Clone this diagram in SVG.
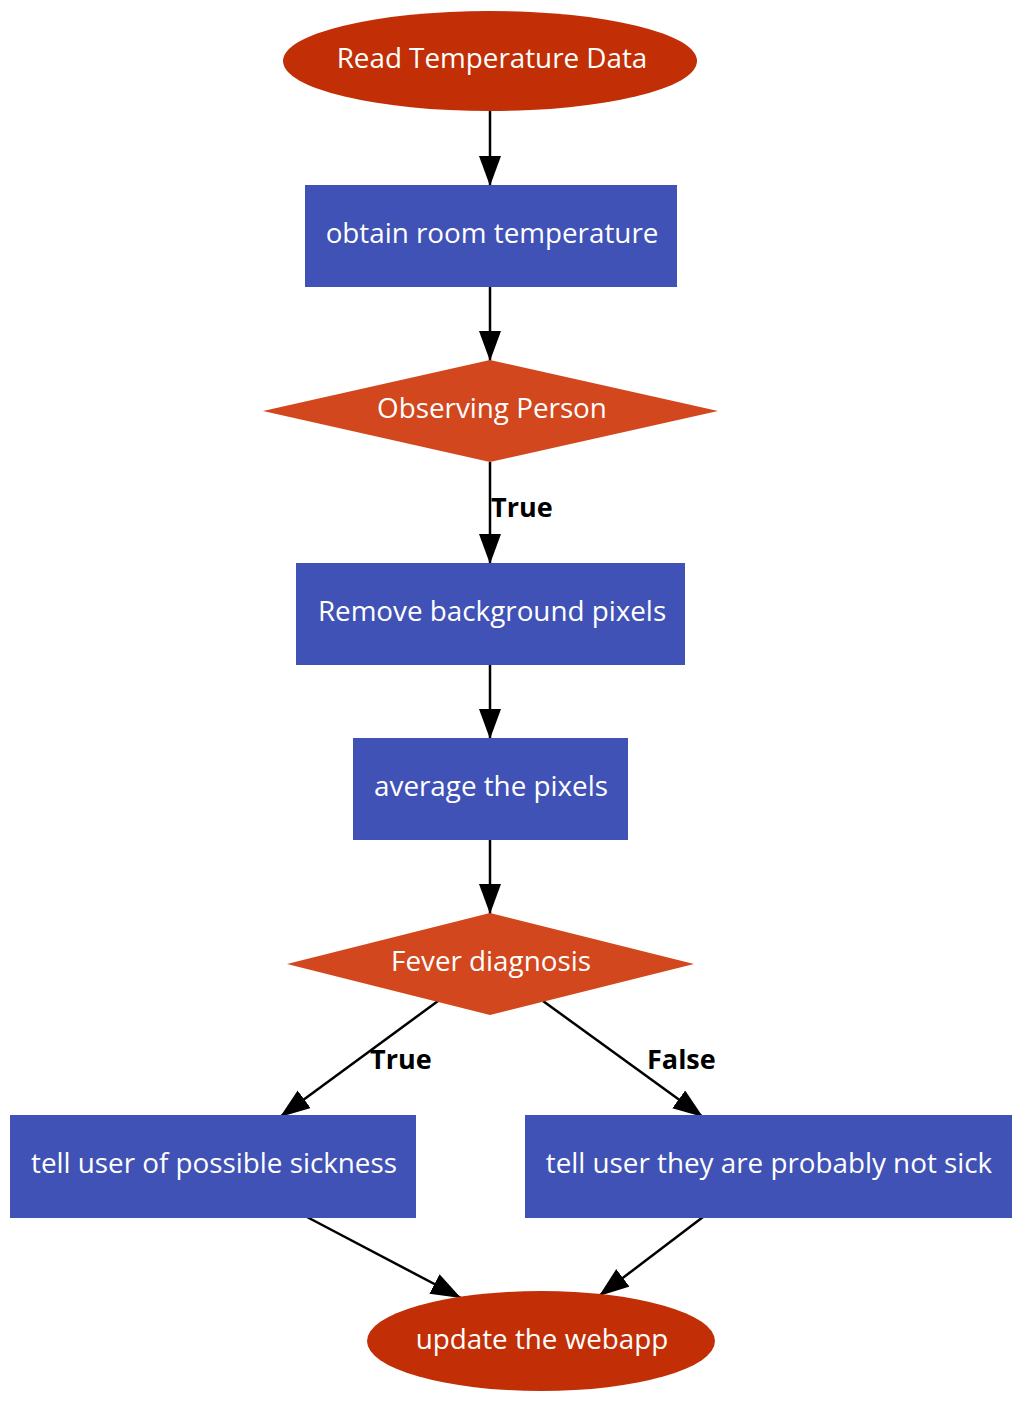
<svg xmlns="http://www.w3.org/2000/svg" width="1036" height="1417" viewBox="0 0 1036 1417">
<style>
.t{font-family:"Open Sans","Noto Sans",sans-serif;font-size:27.8px;fill:#ffffff;text-anchor:middle}
.l{font-family:"Open Sans","Noto Sans",sans-serif;font-size:27px;font-weight:bold;fill:#000000}
.e{fill:#c22e05}
.r{fill:#4052b5}
.d{fill:#d2471d}
.c{stroke:#000;stroke-width:2.5;fill:none;marker-end:url(#ah)}
</style>
<defs>
<marker id="ah" markerUnits="userSpaceOnUse" markerWidth="32" markerHeight="24" refX="30" refY="11" orient="auto">
<path d="M0,0 L30,11 L0,22 Z" fill="#000"/>
</marker>
</defs>
<rect width="1036" height="1417" fill="#ffffff"/>
<g id="connectors">
<line class="c" x1="490" y1="111" x2="490" y2="186"/>
<line class="c" x1="490" y1="287" x2="490" y2="361"/>
<line class="c" x1="490" y1="462" x2="490" y2="564"/>
<line class="c" x1="490" y1="665" x2="490" y2="739"/>
<line class="c" x1="490" y1="840" x2="490" y2="914"/>
<line class="c" x1="438" y1="1001" x2="280" y2="1117"/>
<line class="c" x1="543" y1="1001" x2="703" y2="1117"/>
<line class="c" x1="307" y1="1217" x2="461" y2="1298"/>
<line class="c" x1="703" y1="1217" x2="599" y2="1296"/>
<text class="l" x="491" y="517">True</text>
<text class="l" x="370" y="1069">True</text>
<text class="l" x="647" y="1069">False</text>
</g>
<g id="start">
<ellipse class="e" cx="490" cy="61" rx="207" ry="50"/>
<text class="t" x="492" y="68">Read Temperature Data</text>
</g>
<g id="room">
<rect class="r" x="305" y="185" width="372" height="102"/>
<text class="t" x="492" y="243">obtain room temperature</text>
</g>
<g id="observing">
<polygon class="d" points="490,360 718,411 490,462 263,411"/>
<text class="t" x="492" y="418">Observing Person</text>
</g>
<g id="remove">
<rect class="r" x="296" y="563" width="389" height="102"/>
<text class="t" x="492" y="621">Remove background pixels</text>
</g>
<g id="average">
<rect class="r" x="353" y="738" width="275" height="102"/>
<text class="t" x="491" y="796">average the pixels</text>
</g>
<g id="fever">
<polygon class="d" points="490,913 694,964 490,1015 287,964"/>
<text class="t" x="491" y="971">Fever diagnosis</text>
</g>
<g id="sick">
<rect class="r" x="10" y="1115" width="406" height="103"/>
<text class="t" x="214" y="1173">tell user of possible sickness</text>
</g>
<g id="notsick">
<rect class="r" x="525" y="1115" width="487" height="103"/>
<text class="t" x="769" y="1173">tell user they are probably not sick</text>
</g>
<g id="update">
<ellipse class="e" cx="541" cy="1341" rx="174" ry="50"/>
<text class="t" x="542" y="1349">update the webapp</text>
</g>
</svg>
